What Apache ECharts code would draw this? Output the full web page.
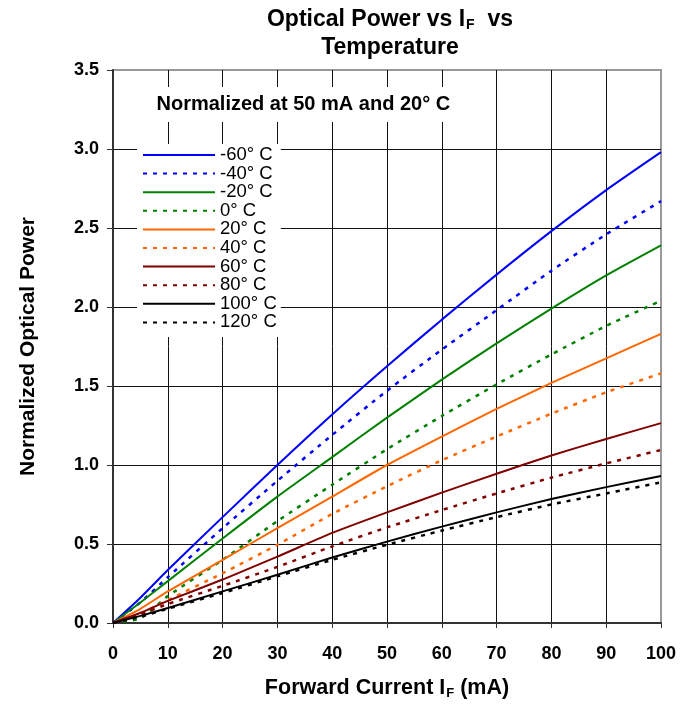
<!DOCTYPE html>
<html>
<head>
<meta charset="utf-8">
<script src="https://cdn.jsdelivr.net/npm/echarts@6/dist/echarts.min.js"></script>
<style>
html,body{margin:0;padding:0;background:#fff;}
#c{width:692px;height:708px;}
</style>
</head>
<body>
<div id="c"></div>
<script>
// Forward current (mA)
const currents = [0, 5, 10, 20, 30, 40, 50, 60, 70, 80, 90, 100];
// Normalized optical power per temperature
const tM60  = [0, 0.16, 0.335, 0.67, 1.00, 1.32, 1.625, 1.92, 2.205, 2.48, 2.74, 2.98];
const tM40  = [0, 0.13, 0.29, 0.60, 0.90, 1.19, 1.47, 1.73, 1.98, 2.23, 2.46, 2.67];
const tM20  = [0, 0.13, 0.265, 0.535, 0.80, 1.05, 1.30, 1.54, 1.77, 1.99, 2.20, 2.39];
const t0    = [0, 0.03, 0.17, 0.40, 0.645, 0.875, 1.10, 1.31, 1.51, 1.70, 1.88, 2.04];
const t20   = [0, 0.09, 0.20, 0.40, 0.60, 0.80, 1.00, 1.18, 1.355, 1.52, 1.675, 1.83];
const t40   = [0, 0.06, 0.145, 0.315, 0.495, 0.69, 0.865, 1.03, 1.18, 1.325, 1.46, 1.58];
const t60   = [0, 0.065, 0.14, 0.275, 0.42, 0.57, 0.70, 0.825, 0.945, 1.06, 1.165, 1.265];
const t80   = [0, 0.055, 0.12, 0.235, 0.355, 0.485, 0.605, 0.715, 0.82, 0.92, 1.01, 1.095];
const t100  = [0, 0.045, 0.095, 0.20, 0.305, 0.415, 0.515, 0.61, 0.70, 0.785, 0.86, 0.93];
const t120  = [0, 0.04, 0.09, 0.19, 0.295, 0.40, 0.495, 0.585, 0.67, 0.75, 0.82, 0.89];

const seriesNames = ['-60° C','-40° C','-20° C','0° C','20° C','40° C','60° C','80° C','100° C','120° C'];
const seriesData = [tM60, tM40, tM20, t0, t20, t40, t60, t80, t100, t120];
const seriesColors = ['#0000FF','#0000FF','#008000','#008000','#FF6600','#FF6600','#800000','#800000','#000000','#000000'];
const seriesDashed = [false,true,false,true,false,true,false,true,false,true];

const xTicks = [0,10,20,30,40,50,60,70,80,90,100];
const yTicks = [0,0.5,1.0,1.5,2.0,2.5,3.0,3.5];

const FONT = '"Liberation Sans", Arial, Helvetica, sans-serif';

const chart = echarts.init(document.getElementById('c'), null, {renderer: 'canvas'});

const series = seriesNames.map((n, i) => ({
  name: n,
  type: 'line',
  symbol: 'none',
  smooth: 0.2,
  data: currents.map((c, k) => [c, seriesData[i][k]]),
  lineStyle: {
    color: seriesColors[i],
    width: seriesDashed[i] ? 2.5 : 2,
    type: seriesDashed[i] ? [4, 6] : 'solid',
    cap: 'butt'
  },
  itemStyle: {color: seriesColors[i]},
  emphasis: {disabled: true},
  z: 3
}));

chart.setOption({
  animation: false,
  backgroundColor: '#fff',
  title: {
    text: '{a|Optical Power vs I}{s|F}{a|  vs}\n{a|Temperature}',
    left: 385,
    top: 1,
    textAlign: 'center',
    textStyle: {
      fontFamily: FONT,
      rich: {
        a: {fontSize: 23, fontWeight: 'bold', color: '#000', fontFamily: FONT, lineHeight: 28},
        s: {fontSize: 14, fontWeight: 'bold', color: '#000', fontFamily: FONT, padding: [11, 0, 0, 1], lineHeight: 28}
      }
    }
  },
  grid: {
    left: 113, right: 31, top: 70, bottom: 85,
    show: true,
    borderColor: '#999',
    borderWidth: 2,
    backgroundColor: '#fff'
  },
  legend: {
    orient: 'vertical',
    left: 137,
    top: 144,
    padding: [1.5, 4, 5, 5],
    backgroundColor: '#fff',
    itemWidth: 72,
    itemHeight: 14,
    itemGap: -0.4,
    itemStyle: {opacity: 0},
    data: seriesNames,
    textStyle: {fontFamily: FONT, fontSize: 18.5, color: '#000'},
    selectedMode: false,
    z: 10
  },
  xAxis: {
    type: 'value',
    min: 0, max: 100, interval: 10,
    name: '{a|Forward Current I}{s|F}{a| (mA)}',
    nameLocation: 'middle',
    nameGap: 53,
    nameTextStyle: {
      fontFamily: FONT,
      rich: {
        a: {fontSize: 21.5, fontWeight: 'bold', color: '#000', fontFamily: FONT, lineHeight: 24},
        s: {fontSize: 13, fontWeight: 'bold', color: '#000', fontFamily: FONT, padding: [10, 0, 0, 1], lineHeight: 24}
      }
    },
    axisLine: {show: true, lineStyle: {color: '#333', width: 2}},
    axisTick: {show: true, inside: false, length: 5, lineStyle: {color: '#333', width: 1}},
    axisLabel: {
      margin: 22,
      fontFamily: FONT, fontSize: 18, fontWeight: 'bold', color: '#000',
      formatter: v => xTicks.includes(v) ? String(v) : ''
    },
    splitLine: {show: true, showMinLine: false, showMaxLine: false, lineStyle: {color: '#111', width: 1}}
  },
  yAxis: {
    type: 'value',
    min: 0, max: 3.5, interval: 0.5,
    name: 'Normalized Optical Power',
    nameLocation: 'middle',
    nameGap: 74,
    nameRotate: 90,
    nameTextStyle: {fontFamily: FONT, fontSize: 21, fontWeight: 'bold', color: '#000'},
    axisLine: {show: true, lineStyle: {color: '#333', width: 2}},
    axisTick: {show: true, inside: false, length: 6, lineStyle: {color: '#333', width: 1}},
    axisLabel: {
      margin: 14,
      fontFamily: FONT, fontSize: 18, fontWeight: 'bold', color: '#000',
      formatter: v => yTicks.some(t => Math.abs(t - v) < 1e-9) ? v.toFixed(1) : ''
    },
    splitLine: {show: true, showMinLine: false, showMaxLine: false, lineStyle: {color: '#111', width: 1}}
  },
  graphic: [{
    type: 'text',
    left: 152.5,
    top: 87,
    z: 5,
    style: {
      text: 'Normalized at 50 mA and 20° C',
      fontFamily: FONT,
      fontSize: 20,
      fontWeight: 'bold',
      fill: '#000',
      backgroundColor: '#fff',
      padding: [7, 4, 8, 4]
    }
  }],
  series: series
});
</script>
</body>
</html>
